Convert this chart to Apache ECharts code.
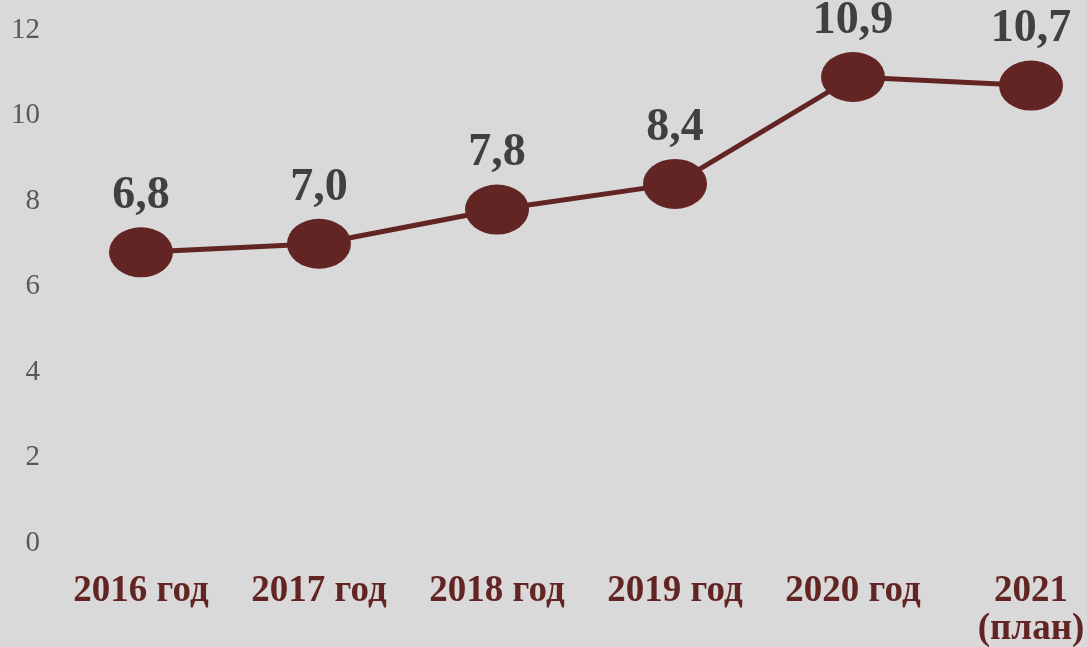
<!DOCTYPE html>
<html>
<head>
<meta charset="utf-8">
<script src="https://cdn.jsdelivr.net/npm/echarts@6/dist/echarts.min.js"></script>
<style>
  html, body { margin: 0; padding: 0; background: #d9d9d9; }
  #chart { width: 1087px; height: 647px; }
</style>
</head>
<body>
<div id="chart"></div>
<script>
// годы
var years = ['2016 год', '2017 год', '2018 год', '2019 год', '2020 год', '2021\n(план)']
// значения
var values = [6.8, 7.0, 7.8, 8.4, 10.9, 10.7]
// шкала Y
var yMin = 0
var yMax = 12
var yStep = 2

var chart = echarts.init(document.getElementById('chart'))

chart.setOption({
  backgroundColor: '#d9d9d9',
  grid: {
    left: 52,
    top: 30,
    width: 1068,
    height: 513,
    outerBoundsMode: 'none' // не сжимать сетку под подписи
  },
  xAxis: {
    type: 'category',
    data: years,
    boundaryGap: true,
    axisLine: { show: false },
    axisTick: { show: false },
    axisLabel: {
      margin: 29,
      interval: 0,
      color: '#632523',
      fontFamily: 'Liberation Serif',
      fontWeight: 'bold',
      fontSize: 37,
      lineHeight: 38
    }
  },
  yAxis: {
    type: 'value',
    min: yMin,
    max: yMax,
    interval: yStep,
    splitLine: { show: false },
    axisLine: { show: false },
    axisTick: { show: false },
    axisLabel: {
      margin: 12,
      color: '#595959',
      fontFamily: 'Liberation Serif',
      fontSize: 29
    }
  },
  series: [
    {
      type: 'line',
      data: values,
      symbol: 'circle',
      symbolSize: [64, 50],
      lineStyle: { color: '#632523', width: 5 },
      itemStyle: { color: '#632523' },
      label: {
        show: true,
        position: 'top',
        distance: 8,
        color: '#404040',
        fontFamily: 'Liberation Serif',
        fontWeight: 'bold',
        fontSize: 46,
        formatter: function (p) {
          return p.value.toFixed(1).replace('.', ',')
        }
      },
      animation: false
    }
  ]
})
</script>
</body>
</html>
